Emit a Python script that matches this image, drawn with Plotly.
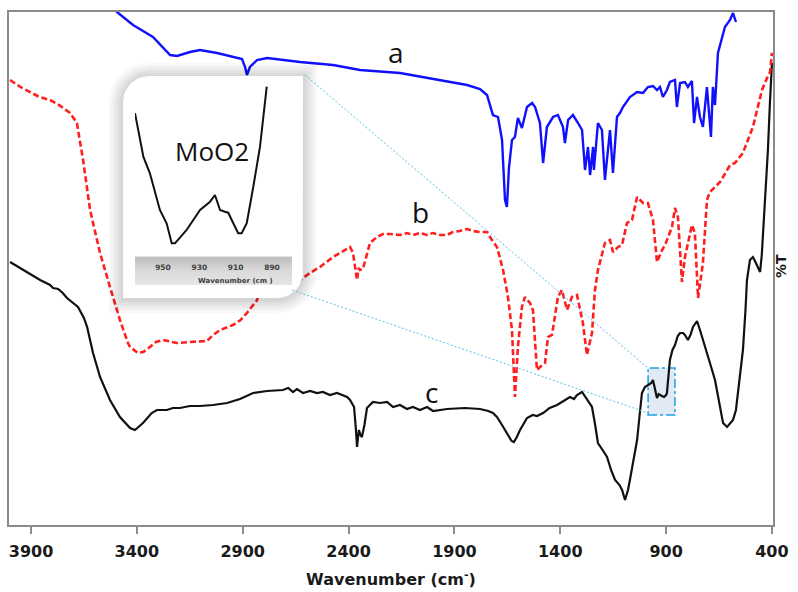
import numpy as np
import plotly.graph_objects as go

# ---------------- data ----------------
# curve a (blue)
wn_a = [3520, 3494, 3418, 3324, 3243, 3210, 3149, 3102, 3021, 2946, 2903, 2889, 2880, 2866, 2832,
        2785, 2710, 2629, 2473, 2355, 2346, 2157, 2077, 1968, 1840, 1779, 1746, 1718, 1694, 1675,
        1661, 1652, 1642, 1628, 1614, 1600, 1581, 1557, 1533, 1519, 1496, 1481, 1463, 1434, 1411,
        1387, 1378, 1363, 1340, 1316, 1297, 1283, 1269, 1259, 1245, 1241, 1222, 1203, 1189, 1165,
        1151, 1132, 1118, 1104, 1071, 1037, 1009, 986, 962, 943, 929, 915, 896, 882, 858, 849, 834,
        811, 797, 778, 768, 754, 740, 726, 707, 688, 679, 669, 655, 622, 598, 584, 570]
t_a = [530, 513, 500, 488, 470, 469, 473, 475, 472, 468, 466, 458, 450, 458, 465,
       467, 465, 463, 460, 456, 455, 452, 449, 445, 440, 436, 430, 410, 408, 385,
       325, 318, 358, 385, 388, 407, 397, 418, 422, 418, 402, 362, 398, 408, 410,
       398, 382, 405, 410, 402, 395, 355, 378, 350, 378, 355, 402, 395, 345, 395,
       352, 408, 412, 418, 428, 433, 432, 438, 439, 435, 438, 428, 435, 443, 445, 418, 442,
       443, 438, 444, 402, 428, 408, 398, 438, 388, 438, 420, 472, 498, 505, 512, 503]

# curve b (red, dashed)
wn_b = [3999, 3950, 3905, 3860, 3810, 3760, 3716, 3683, 3670, 3654, 3621, 3574, 3527, 3480, 3442,
        3432, 3395, 3370, 3338, 3310, 3277, 3240, 3210, 3150, 3069, 3040, 3007, 2946, 2910, 2880,
        2832, 2818, 2750, 2667, 2629, 2582, 2535, 2473, 2440, 2410, 2393, 2379, 2368, 2360, 2353,
        2346, 2332, 2315, 2299, 2266, 2237, 2204, 2157, 2124, 2096, 2063, 2029, 2001, 1968, 1935,
        1907, 1874, 1840, 1812, 1779, 1746, 1732, 1699, 1670, 1647, 1628, 1614, 1600, 1581, 1567,
        1543, 1529, 1510, 1496, 1472, 1458, 1439, 1411, 1392, 1368, 1345, 1321, 1293, 1274, 1250,
        1236, 1222, 1189, 1165, 1151, 1127, 1108, 1085, 1061, 1037, 1009, 986, 962, 943, 919, 905,
        872, 858, 844, 825, 811, 778, 764, 749, 726, 707, 693, 645, 598, 575, 537, 490, 447, 423,
        409, 400]
t_b = [445, 438, 433, 428, 425, 419, 412, 402, 385, 365, 315, 272, 238, 205, 182,
       178, 172, 173, 178, 183, 185, 183, 182, 183, 184, 190, 195, 200, 205, 212,
       225, 237, 240, 238, 245, 252, 258, 268, 272, 276, 278, 272, 255, 245, 257,
       255, 256, 270, 282, 288, 291, 291, 290, 292, 290, 292, 290, 292, 290, 290,
       293, 294, 296, 294, 293, 293, 288, 278, 255, 228, 195, 128, 178, 218, 228,
       222, 215, 155, 158, 162, 188, 190, 228, 235, 215, 228, 230, 202, 170, 192,
       235, 255, 282, 285, 273, 278, 280, 302, 305, 328, 322, 322, 305, 263, 275, 280,
       298, 317, 308, 243, 268, 300, 292, 227, 262, 325, 333, 343, 360, 362, 372, 398, 435, 447,
       453, 472]

# curve c (black)
wn_c = [3999, 3952, 3857, 3810, 3796, 3772, 3750, 3730, 3700, 3678, 3650, 3635, 3607, 3574, 3527,
        3480, 3432, 3409, 3371, 3330, 3305, 3258, 3230, 3196, 3150, 3102, 3040, 2974, 2913, 2851,
        2785, 2740, 2710, 2685, 2662, 2644, 2615, 2582, 2549, 2521, 2488, 2455, 2407, 2393, 2374,
        2365, 2360, 2355, 2351, 2344, 2337, 2325, 2313, 2285, 2251, 2218, 2190, 2157, 2124, 2096,
        2063, 2029, 2001, 1935, 1850, 1779, 1740, 1718, 1699, 1675, 1652, 1630, 1619, 1605, 1590,
        1557, 1530, 1510, 1481, 1450, 1415, 1380, 1354, 1335, 1321, 1297, 1285, 1274, 1250, 1235,
        1222, 1200, 1179, 1160, 1141, 1120, 1108, 1094, 1080, 1071, 1050, 1037, 1025, 1014, 1000,
        986, 970, 962, 950, 943, 935, 929, 920, 910, 900, 896, 882, 870, 858, 845, 834, 820, 811,
        797, 785, 773, 760, 754, 740, 720, 707, 690, 669, 650, 631, 612, 598, 584, 570, 560, 550,
        537, 525, 518, 504, 490, 478, 466, 456, 448, 442, 430, 419, 410, 400]
t_c = [263, 257, 245, 240, 237, 236, 232, 227, 222, 218, 207, 198, 172, 148, 125,
       108, 97, 95, 102, 112, 115, 115, 117, 117, 119, 119, 120, 122, 126, 132,
       134, 135, 135, 137, 133, 136, 132, 134, 132, 133, 130, 132, 128, 125, 118,
       95, 78, 88, 95, 90, 88, 100, 117, 123, 122, 123, 118, 120, 116, 118,
       115, 118, 114, 116, 117, 116, 114, 112, 108, 100, 92, 84, 83, 88, 95,
       107, 110, 109, 112, 117, 120, 125, 128, 126, 130, 133, 129, 125, 118, 100,
       82, 75, 68, 55, 45, 40, 35, 25, 35, 45, 70, 85, 110, 132, 138,
       140, 142, 145, 135, 127, 131, 130, 129, 128, 130, 132, 165, 175, 180, 189, 192, 192, 190,
       185, 190, 198, 203, 204, 195, 180, 172, 160, 145, 125, 102, 98, 102, 105, 115, 132, 150,
       175, 215, 245, 265, 268, 263, 258, 253, 270, 292, 330, 375, 420, 462]

# inset (MoO2 region of curve c)
wn_in = [965.4, 960.8, 957.2, 951.7, 948.0, 945.2, 943.4, 937.0, 929.6, 925.9, 924.1,
         921.4, 918.6, 915.9, 914.1, 911.3, 908.6, 906.7, 903.9, 900.3, 896.6, 892.9]
t_in = [186.7, 143.3, 126.7, 90, 76.7, 56.7, 56.7, 70, 90, 95, 98.3,
        105, 90, 88.3, 87.3, 76.7, 66.7, 66.7, 76.7, 113.3, 153.3, 213.3]

main_ticks = [3900, 3400, 2900, 2400, 1900, 1400, 900, 400]
inset_ticks = [950, 930, 910, 890]

# ---------------- layout helpers (pixel -> paper) ----------------
L, R, T, B = 9, 773, 12, 525
W, H = 798, 592


def fx(px):
    return (px - L) / (R - L)


def fy(py):
    return (B - py) / (B - T)


def rrect(x0, y0, x1, y1, r, n=12):
    """rectangle with rounded top-left & bottom-right corners (screen coords, y down)"""
    xs, ys = [], []
    th = np.linspace(np.pi, 1.5 * np.pi, n)
    xs += list(x0 + r + r * np.cos(th)); ys += list(y0 + r + r * np.sin(th))
    xs += [x1]; ys += [y0]
    th = np.linspace(0, 0.5 * np.pi, n)
    xs += list(x1 - r + r * np.cos(th)); ys += list(y1 - r + r * np.sin(th))
    xs += [x0, xs[0]]; ys += [y1, ys[0]]
    return xs, ys


fig = go.Figure()

# main spectra
fig.add_trace(go.Scatter(x=wn_c, y=t_c, mode='lines', line=dict(color='#111111', width=2.2),
                         hoverinfo='skip'))
fig.add_trace(go.Scatter(x=wn_b, y=t_b, mode='lines',
                         line=dict(color='#ff1f1f', width=2.6, dash='6px,3px'), hoverinfo='skip'))
fig.add_trace(go.Scatter(x=wn_a, y=t_a, mode='lines', line=dict(color='#1010ff', width=2.4),
                         hoverinfo='skip'))

# inset frame on a pixel-like canvas subplot (x2/y2)
bx0, by0, bx1, by1, br = 123, 76, 303, 298, 26
for k in range(7, 0, -1):
    e = 2 * k
    xs, ys = rrect(bx0 - e, by0 - e + 1, bx1 + e, by1 + e + 1, br + e)
    fig.add_trace(go.Scatter(x=xs, y=ys, mode='lines', line=dict(width=0), fill='toself',
                             fillcolor='rgba(0,0,0,0.022)', xaxis='x2', yaxis='y2',
                             hoverinfo='skip'))
xs, ys = rrect(bx0, by0, bx1, by1, br)
fig.add_trace(go.Scatter(x=xs, y=ys, mode='lines', line=dict(width=0), fill='toself',
                         fillcolor='white', xaxis='x2', yaxis='y2', hoverinfo='skip'))
fig.add_trace(go.Scatter(x=[135, 292, 292, 135, 135], y=[257, 257, 285, 285, 257], mode='lines',
                         line=dict(width=0), fill='toself',
                         fillgradient=dict(type='vertical',
                                           colorscale=[[0, '#e6e6e6'], [0.5, '#dadada'], [1, '#bdbdbd']]),
                         xaxis='x2', yaxis='y2', hoverinfo='skip'))
fig.add_trace(go.Scatter(x=[135, 292], y=[257, 257], mode='lines', line=dict(color='#c4c4c4', width=1),
                         xaxis='x2', yaxis='y2', hoverinfo='skip'))

# inset curve (x3/y3)
fig.add_trace(go.Scatter(x=wn_in, y=t_in, mode='lines', line=dict(color='#111111', width=2),
                         xaxis='x3', yaxis='y3', hoverinfo='skip'))

axis_col = '#8a8a8a'
bold16 = dict(family='DejaVu Sans', size=16, color='#1a1a1a', weight='bold')

fig.update_layout(
    width=W, height=H, template='none', showlegend=False,
    paper_bgcolor='white', plot_bgcolor='rgba(0,0,0,0)',
    margin=dict(l=L, r=W - R, t=T, b=H - B, pad=0),
    xaxis=dict(domain=[0, 1], range=[4004, 395], tickvals=main_ticks,
               ticktext=[str(v) for v in main_ticks],
               ticks='outside', ticklen=7, tickwidth=1.5, tickcolor=axis_col,
               showline=True, mirror=True, linecolor=axis_col, linewidth=1.5,
               showgrid=False, zeroline=False, automargin=False,
               tickfont=bold16, ticklabelstandoff=4,
               title=dict(text='Wavenumber (cm<sup>-</sup>)', font=bold16, standoff=14)),
    yaxis=dict(domain=[0, 1], range=[0, 513], showline=True, mirror=True, linecolor=axis_col,
               linewidth=1.5, showticklabels=False, ticks='', showgrid=False, zeroline=False,
               automargin=False),
    xaxis2=dict(domain=[fx(100), fx(325)], range=[100, 325], visible=False, anchor='y2',
                automargin=False),
    yaxis2=dict(domain=[fy(320), fy(55)], range=[320, 55], visible=False, anchor='x2',
                automargin=False),
    xaxis3=dict(domain=[fx(135), fx(292)], range=[965.4, 879], anchor='y3', tickvals=inset_ticks,
                ticktext=[str(v) for v in inset_ticks], ticks='', showline=False, showgrid=False,
                zeroline=False, automargin=False, ticklabelstandoff=4,
                tickfont=dict(family='DejaVu Sans', size=7.5, color='#404040', weight='bold')),
    yaxis3=dict(domain=[fy(257), fy(80)], range=[43, 220], visible=False, anchor='x3',
                automargin=False),
)

# zoom highlight + connector lines
fig.add_shape(type='rect', xref='x', yref='y', x0=985, x1=858, y0=110, y1=157,
              line=dict(color='#1aa3e8', width=1.5, dash='dashdot'),
              fillcolor='rgba(195,212,235,0.5)', layer='below')
conn = dict(color='#5bbfea', width=1, dash='2px,2px')
fig.add_shape(type='line', xref='paper', yref='paper', x0=fx(305), y0=fy(75), x1=fx(648), y1=fy(368),
              line=conn, layer='above')
fig.add_shape(type='line', xref='paper', yref='paper', x0=fx(292), y0=fy(290), x1=fx(648), y1=fy(413),
              line=conn, layer='above')

lab_font = dict(family='Open Sans', size=28, color='#111111')
for txt, xx, yy in [('a', 2176, 473), ('b', 2062, 313), ('c', 2006, 133)]:
    fig.add_annotation(text=txt, x=xx, y=yy, xref='x', yref='y', showarrow=False, font=lab_font)

fig.add_annotation(text='MoO2', x=212, y=151, xref='x2', yref='y2', showarrow=False,
                   font=dict(family='Open Sans', size=26, color='#111111'))
fig.add_annotation(text='Wavenumber (cm )', x=235, y=281, xref='x2', yref='y2', showarrow=False,
                   font=dict(family='DejaVu Sans', size=7, color='#404040', weight='bold'))
fig.add_annotation(text='%T', x=fx(791), y=fy(266), xref='paper', yref='paper', showarrow=False,
                   textangle=-90, font=dict(family='DejaVu Sans', size=14, color='#1a1a1a',
                                            weight='bold'))

fig.write_html('out.html', config={'displayModeBar': False},
               post_script="document.body.style.margin='0';")
